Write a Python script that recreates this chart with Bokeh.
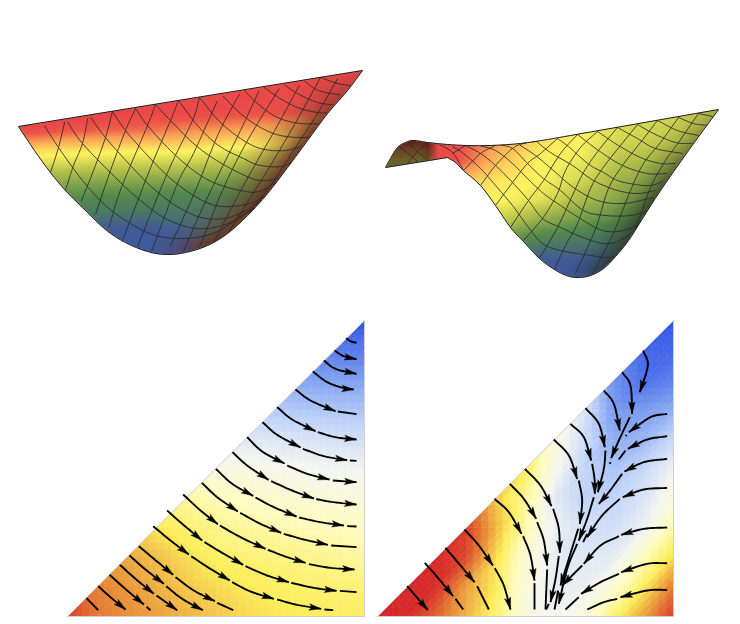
import numpy as np
from bokeh.plotting import figure
from bokeh.models import Range1d
from bokeh.embed import file_html
from bokeh.resources import INLINE

# ---------- upper left surface (page pixels) ----------
S1_EDGES = [
 [(18,126),(362,70)],
 [(362,70),(347,90),(327,113),(307,140),(287,167),(267,193),(247,215),(227,233),(207,245),
  (185,252),(166,254),(147,251),(125,242),(105,229),(82,207),(65,190),(50,172),(34,150),(18,126)],
]
S1_RIGHT_LEG = [(207,245),(227,233),(247,215),(267,193),(287,167),(307,140),(327,113),(347,90),(362,70)]
S1_DOWN = [
 [(42,122),(58,147),(82,180),(105,205),(130,223),(155,235),(185,238),(215,232),(240,216),(262,203)],
 [(65,118),(82,143),(118,180),(140,200),(165,218),(195,228),(225,224),(250,210),(270,196)],
 [(88,114),(105,137),(130,165),(155,190),(180,208),(205,218),(232,216),(258,202),(277,187)],
 [(112,111),(125,130),(147,155),(170,178),(193,195),(215,205),(240,205),(262,197),(283,178)],
 [(135,108),(147,125),(170,150),(193,170),(213,182),(240,190),(262,190),(290,170)],
 [(155,104),(170,120),(192,142),(213,158),(240,173),(260,180),(282,176),(297,160)],
 [(178,100),(197,125),(218,145),(243,158),(260,165),(285,165),(303,150)],
 [(199,97),(218,120),(240,138),(260,148),(285,150),(310,143)],
 [(220,93),(240,113),(260,127),(280,135),(305,137),(317,133)],
 [(242,88),(257,103),(277,117),(300,123),(325,123)],
 [(261,85),(278,97),(297,107),(317,112),(332,112)],
 [(282,83),(297,93),(317,102),(338,105)],
 [(302,79),(318,90),(343,95)],
 [(320,77),(337,83),(350,85)],
 [(340,73),(355,78)],
]
S1_UP = [
 [(42,122),(34,150)],
 [(65,118),(58,147),(50,172)],
 [(88,114),(82,143),(73,165),(65,190)],
 [(112,111),(105,137),(93,170),(79,205)],
 [(135,108),(125,130),(110,170),(93,220)],
 [(155,104),(147,125),(130,165),(118,195),(107,232)],
 [(178,100),(170,120),(149,170),(122,240)],
 [(199,97),(192,120),(168,170),(137,246)],
 [(220,93),(193,153),(177,183),(151,251)],
 [(242,88),(218,133),(195,190),(166,254)],
 [(261,85),(240,130),(220,170),(200,212),(183,251)],
 [(282,83),(257,123),(240,153),(222,190),(199,247)],
 [(302,79),(277,125),(257,160),(236,198),(214,241)],
 [(320,77),(298,117),(273,160),(250,197),(228,232)],
 [(340,73),(317,113),(293,150),(270,185),(242,221)],
]
S1_X = [20,60,100,140,180,220,260,300,340,380]
S1_Y = [70,90,110,130,150,170,190,210,230,250]
S1_VAL = [
 [1.1,1.0,1.0,1.0,1.0,1.0,1.0,1.0,1.0,1.0],
 [1.1,1.1,1.05,1.0,1.0,1.0,1.0,1.0,1.0,1.0],
 [1.1,1.1,1.05,1.0,1.0,.98,.96,.94,.94,.9],
 [.98,.93,.9,.88,.84,.8,.76,.74,.74,.74],
 [.68,.65,.64,.63,.63,.6,.58,.56,.56,.56],
 [.53,.52,.51,.51,.5,.48,.47,.46,.46,.46],
 [.41,.40,.38,.38,.36,.36,.37,.4,.4,.4],
 [.31,.29,.27,.26,.25,.26,.32,.4,.4,.4],
 [.14,.12,.08,.05,.12,.25,.36,.4,.4,.4],
 [.02,.02,.02,0,.05,.25,.3,.4,.4,.4],
]
S1_RIM_D = [0,8,20,40,60]
S1_RIM_W = [.95,.75,.45,.15,0]
S1_RIM_Y = [75,100,130,260]
S1_RIM_K = [.15,.55,1,1]

# ---------- upper right surface ----------
S2_EDGES = [
 [(385,167),(390,158),(397,147),(405,142),(413,140),(427,142),(447,144),(467,145),(490,145),(520,143),(547,139),(570,135)],
 [(570,135),(718,109)],
 [(718,109),(688,150),(660,190),(642,218),(628,240),(615,256),(603,268),(590,275),
  (577,277),(566,275),(554,269),(539,258),(523,241),(510,227),(495,205),(480,185),(463,170),(455,162),(447,157)],
 [(447,157),(385,167)],
]
S2_RIGHT_LEG = [(603,268),(615,256),(628,240),(642,218),(660,190),(688,150),(718,109)]
S2_DOWN = [
 [(437,143),(452,152),(463,170)],
 [(398,146),(408,153),(420,164)],
 [(408,142),(417,151),(430,162)],
 [(452,146),(463,153),(480,168),(495,185),(512,205),(528,227),(542,243),(560,250),(590,255),(610,257),(623,252)],
 [(465,145),(480,153),(495,165),(512,182),(528,200),(542,218),(560,227),(585,238),(610,243),(637,230)],
 [(478,145),(495,150),(512,163),(527,178),(543,193),(560,205),(578,217),(602,230),(623,230),(643,222)],
 [(497,144),(512,148),(527,163),(543,178),(560,190),(583,210),(605,215),(630,215),(648,210)],
 [(517,143),(535,155),(553,170),(573,187),(597,200),(623,203),(653,197)],
 [(536,141),(550,152),(572,165),(593,180),(617,190),(638,193),(655,190)],
 [(557,138),(568,146),(578,155),(590,165),(603,172),(617,180),(635,184),(650,185),(662,181)],
 [(577,134),(598,150),(622,165),(647,173),(667,173)],
 [(597,131),(618,145),(640,157),(660,163),(675,163)],
 [(617,127),(637,138),(655,148),(682,153)],
 [(637,124),(653,133),(675,142),(692,143)],
 [(657,120),(677,130),(698,135)],
 [(678,117),(693,123),(708,125)],
 [(698,113),(712,116)],
]
S2_UP = [
 [(407,163),(417,151),(427,143)],
 [(390,158),(405,142)],
 [(465,145),(452,153)],
 [(495,145),(480,153),(463,170)],
 [(535,141),(523,143),(512,148),(495,165),(480,185)],
 [(557,138),(540,153),(527,163),(512,182),(495,205)],
 [(577,134),(560,153),(543,180),(528,200),(510,227)],
 [(597,131),(580,147),(565,170),(557,193),(542,218),(523,240)],
 [(617,127),(598,150),(583,172),(571,197),(557,227),(539,258)],
 [(637,124),(620,145),(602,168),(590,188),(577,223),(565,245),(554,269)],
 [(657,120),(640,142),(622,165),(608,188),(597,223),(587,247),(573,277)],
 [(678,117),(660,142),(643,163),(630,190),(617,223),(608,243),(592,273)],
 [(698,113),(678,142),(665,160),(650,187),(637,223),(628,243),(608,265)],
]
S2_X = [380,420,440,460,500,540,580,620,660,700,740]
S2_Y = [100,120,140,160,180,200,220,240,260,280]
S2_VAL = [
 [.6,.6,.7,.6,.6,.6,.6,.6,.56,.54,.52],
 [.9,.9,1,.85,.7,.66,.62,.58,.56,.54,.52],
 [1,.95,1,.95,.78,.66,.62,.56,.54,.52,.52],
 [.65,.62,1,.92,.72,.62,.6,.52,.5,.48,.48],
 [.6,.6,.8,.72,.64,.62,.56,.48,.44,.42,.42],
 [.6,.6,.62,.62,.62,.58,.5,.44,.4,.36,.36],
 [.6,.6,.58,.58,.54,.46,.4,.36,.32,.3,.3],
 [.5,.5,.5,.5,.4,.3,.26,.24,.22,.22,.22],
 [.3,.3,.3,.3,.16,.08,.08,.1,.1,.1,.1],
 [.1,.1,.1,.1,.02,0,0,0,0,0,0],
]
S2_LOBE_X = [380,428,438,700]
S2_LOBE_K = [.42,.42,1,1]
S2_RIM_D = [0,8,20,35,50]
S2_RIM_W = [.75,.5,.25,.05,0]
S2_RIM_Y = [110,150,200,280]
S2_RIM_K = [.25,.6,1,1]

# colour scale of the surfaces: value, red, green, blue
SURF_V = [0,.1,.2,.35,.45,.52,.62,.72,.8,.92,1.0,1.1]
SURF_R = [62,66,72,85,140,185,252,253,250,238,235,205]
SURF_G = [88,92,112,138,170,195,243,195,160,85,72,70]
SURF_B = [160,150,115,75,75,75,95,90,85,72,72,65]

# ---------- lower triangles: node values per row, bottom row first ----------
LEFT_FIELD = [
 [.95,.8,.75,.7,.65,.6,.55,.52,.5,.49,.48],
 [.78,.72,.66,.6,.55,.51,.48,.46,.44,.43],
 [.68,.62,.55,.48,.44,.41,.38,.36,.33],
 [.52,.45,.38,.33,.3,.27,.25,.22],
 [.32,.26,.2,.17,.14,.12,.1],
 [.08,.06,.03,.01,-.01,-.03],
 [-.12,-.14,-.16,-.18,-.2],
 [-.35,-.36,-.37,-.38],
 [-.55,-.56,-.57],
 [-.78,-.78],
 [-1.0],
]
RIGHT_FIELD = [
 [1,1,.85,.65,.45,.1,-.02,.1,.45,.7,.95],
 [1,.98,.7,.5,.12,-.08,-.05,.15,.5,.8],
 [1,.92,.55,.15,-.08,-.12,-.08,.25,.55],
 [.95,.65,.3,-.05,-.18,-.2,-.05,.3],
 [.6,.35,-.1,-.28,-.28,-.15,.1],
 [.5,.05,-.28,-.38,-.25,-.03],
 [.1,-.2,-.5,-.45,-.25],
 [-.15,-.6,-.6,-.5],
 [-.65,-.85,-.75],
 [-.9,-.9],
 [-1.0],
]
FIELD_V = [-1,-.6,-.3,0,.25,.5,.75,1]
FIELD_R = [50,120,190,245,255,252,232,214]
FIELD_G = [85,155,210,247,252,238,140,40]
FIELD_B = [230,240,250,240,190,90,55,40]
LEFT_TRI = [(67,616),(364,320),(364,616)]
RIGHT_TRI = [(377,616),(673,320),(673,616)]

# ---------- streamlines, in 3x crop units ----------
L_ORIGIN = (60,315)
L_ARROWED = [
 [(822,105),(850,122),(888,131)],[(790,135),(825,160),(888,175)],[(757,168),(800,200),(850,218),(880,222)],
 [(705,222),(750,255),(825,287)],[(650,275),(695,312),(765,347)],[(772,350),(825,365),(888,372)],
 [(606,320),(650,358),(720,396)],[(727,400),(790,422),(860,434)],
 [(560,365),(605,408),(672,444)],[(680,450),(740,475),(807,492)],[(817,495),(888,500)],
 [(516,410),(560,450),(624,493)],[(632,497),(695,525),(760,549)],[(767,551),(820,560),(888,567)],
 [(466,460),(515,505),(578,541)],[(585,546),(640,575),(708,603)],[(716,606),(780,620),(850,630)],
 [(424,502),(470,545),(532,588)],[(539,592),(600,625),(662,652)],[(670,655),(730,672),(802,688)],
 [(368,537),(420,585),(472,626)],[(478,630),(540,665),(615,700)],[(622,703),(680,725),(735,742)],[(745,746),(810,757),(882,762)],
 [(320,585),(365,625),(425,675)],[(432,680),(485,712),(548,748)],[(555,752),(620,780),(685,800)],[(692,802),(760,817),(828,826)],
 [(278,632),(330,675),(385,717)],[(392,722),(445,757),(508,795)],[(515,800),(570,828),(640,850)],[(650,852),(710,868),(782,880)],
 [(235,692),(280,730),(338,778)],[(345,785),(400,825),(463,857)],
 [(207,720),(255,762),(310,805)],[(317,812),(365,850),(427,884)],
 [(178,748),(225,790),(280,835)],[(288,840),(350,884)],
 [(147,778),(200,825),(250,867)],[(113,812),(150,845),(195,882)],
]
L_PLAIN = [
 [(857,68),(872,78),(888,82)],[(832,288),(888,296)],[(868,435),(888,436)],[(860,632),(888,633)],[(812,690),(888,695)],
 [(838,826),(888,830)],[(792,882),(818,884)],[(470,862),(518,884)],[(258,874),(270,884)],[(78,848),(113,884)],
]
R_ORIGIN = (370,315)
R_ARROWED = [
 [(110,812),(172,884)],[(163,742),(205,790),(248,842)],[(225,697),(270,750),(312,800)],
 [(282,642),(325,690),(367,750)],[(373,758),(400,810),(420,882)],
 [(372,550),(415,590),(453,655)],[(458,662),(480,720),(492,795)],
 [(418,505),(460,550),(497,610)],[(500,620),(520,675),(530,750)],
 [(463,460),(510,510),(543,572)],[(548,580),(565,640),(568,712)],[(565,722),(555,790),(540,860)],
 [(550,372),(595,420),(620,490)],[(625,495),(635,555),(628,625)],[(623,640),(595,730),(570,810)],
 [(600,325),(640,365),(662,435)],[(665,445),(672,490),(673,535)],[(670,545),(650,610),(625,675)],
 [(645,278),(685,325),(703,395)],[(705,405),(700,460),(682,530)],[(620,685),(590,760),(565,865)],
 [(700,225),(730,265),(748,345)],[(755,170),(780,210),(785,295)],[(778,305),(745,375),(722,428)],
 [(818,105),(832,150),(808,230)],
 [(890,295),(840,305),(775,350)],[(890,362),(830,372),(772,400)],[(890,430),(820,440),(762,468)],
 [(755,475),(715,530),(685,565)],[(890,517),(820,522),(757,545)],[(748,550),(695,600),(650,665)],
 [(890,636),(820,640),(752,658)],[(745,662),(690,690),(640,745)],[(635,750),(575,810)],
 [(890,743),(830,745),(752,770)],[(745,775),(690,800),(632,835)],[(890,823),(830,825),(750,845)],
]
R_PLAIN = [
 [(255,850),(278,882)],[(320,812),(355,882)],[(492,803),(492,882)],[(530,762),(525,882)],[(535,865),(527,882)],
 [(563,825),(552,882)],[(768,358),(766,362)],[(765,405),(745,432)],[(625,845),(585,882)],[(740,850),(700,860),(650,882)],
 [(720,440),(718,445)],[(650,655),(638,680)],
]


def smooth(pts, n=8):
    pts = np.array(pts, float)
    if len(pts) < 3:
        return pts[:, 0].tolist(), pts[:, 1].tolist()
    q = np.vstack([2*pts[0]-pts[1], pts, 2*pts[-1]-pts[-2]])
    out = []
    for i in range(1, len(q)-2):
        p0, p1, p2, p3 = q[i-1], q[i], q[i+1], q[i+2]
        for t in np.linspace(0, 1, n, endpoint=False):
            out.append(.5*((2*p1)+(-p0+p2)*t+(2*p0-5*p1+4*p2-p3)*t*t+(-p0+3*p1-3*p2+p3)*t**3))
    out.append(pts[-1])
    out = np.array(out)
    return out[:, 0].tolist(), out[:, 1].tolist()


def inside(poly, X, Y):
    poly = np.array(poly, float)
    res = np.zeros(X.shape, bool)
    x1, y1 = poly[-1]
    for x2, y2 in poly:
        c = (y1 > Y) != (y2 > Y)
        with np.errstate(divide="ignore", invalid="ignore"):
            res ^= c & (X < (x2-x1)*(Y-y1)/(y2-y1+1e-12)+x1)
        x1, y1 = x2, y2
    return res


def lattice(xs, ys, table, X, Y):
    t = np.array(table, float)
    fx = np.interp(X, xs, np.arange(len(xs)))
    fy = np.interp(Y, ys, np.arange(len(ys)))
    ix = np.clip(fx.astype(int), 0, len(xs)-2)
    iy = np.clip(fy.astype(int), 0, len(ys)-2)
    ax, ay = fx-ix, fy-iy
    return (t[iy, ix]*(1-ax)*(1-ay)+t[iy, ix+1]*ax*(1-ay)+t[iy+1, ix]*(1-ax)*ay+t[iy+1, ix+1]*ax*ay)


def outline_of(edges):
    xx, yy = [], []
    for e in edges:
        a, b = smooth(e, 4)
        xx += a
        yy += b
    return xx, yy


def surface_image(edges, xs, ys, vals, leg, rim_d, rim_w, rim_y, rim_k, rim_rgb, lobe=None):
    xx, yy = outline_of(edges)
    x0, x1 = int(min(xx))-1, int(max(xx))+2
    y0, y1 = int(min(yy))-1, int(max(yy))+2
    ss = 3
    gx = x0+(np.arange((x1-x0)*ss)+.5)/ss
    gy = y0+(np.arange((y1-y0)*ss)+.5)/ss
    X, Y = np.meshgrid(gx, gy)
    mask = inside(list(zip(xx, yy)), X, Y)
    v = lattice(xs, ys, vals, X, Y)
    rgb = np.stack([np.interp(v, SURF_V, c) for c in (SURF_R, SURF_G, SURF_B)], -1)
    if lobe is not None:
        rgb *= np.interp(X, lobe[0], lobe[1])[..., None]
    leg = np.array(leg, float)
    d = np.interp(Y, leg[::-1, 1], leg[::-1, 0])-X
    w = np.interp(d, rim_d, rim_w)*np.interp(Y, rim_y, rim_k)
    rgb = rgb*(1-w[..., None])+np.array(rim_rgb, float)*w[..., None]
    a = mask.astype(float)
    h, wd = a.shape
    a2 = a.reshape(h//ss, ss, wd//ss, ss).mean((1, 3))
    col = (rgb*a[..., None]).reshape(h//ss, ss, wd//ss, ss, 3).mean((1, 3))
    col = col/np.maximum(a2[..., None], 1e-6)
    img = np.zeros((h//ss, wd//ss), dtype=np.uint32)
    view = img.view(np.uint8).reshape(h//ss, wd//ss, 4)
    view[..., :3] = np.clip(col, 0, 255).astype(np.uint8)
    view[..., 3] = (a2*255).astype(np.uint8)
    return img, x0, y0, x1-x0, y1-y0


def hexcol(v):
    return "#%02x%02x%02x" % tuple(int(np.interp(v, FIELD_V, c)) for c in (FIELD_R, FIELD_G, FIELD_B))


def draw_field(p, tri, field, k=4):
    (xl, yb), (xr, yt), _ = tri
    m = len(field)-1
    node = lambda i, r: field[r][i-r]
    pos = lambda a, b: (xl+(xr-xl)*a/m, yb+(yt-yb)*b/m)
    xs, ys, cs = [], [], []
    def add(P, V):
        for s in range(k):
            for t in range(k-s):
                for a, b, f in ((s, t, 0), (s, t, 1)):
                    if f and a+b+2 > k:
                        continue
                    if not f:
                        L = [(a, b), (a+1, b), (a, b+1)]
                    else:
                        L = [(a+1, b), (a+1, b+1), (a, b+1)]
                    px, py, val = [], [], []
                    for (u, w) in L:
                        c0, c1, c2 = 1-(u+w)/k, u/k, w/k
                        px.append(c0*P[0][0]+c1*P[1][0]+c2*P[2][0])
                        py.append(c0*P[0][1]+c1*P[1][1]+c2*P[2][1])
                        val.append(c0*V[0]+c1*V[1]+c2*V[2])
                    xs.append(px); ys.append(py); cs.append(hexcol(sum(val)/3))
    for r in range(m):
        for i in range(r, m):
            add([pos(i, r), pos(i+1, r), pos(i+1, r+1)], [node(i, r), node(i+1, r), node(i+1, r+1)])
            if i > r:
                add([pos(i, r), pos(i+1, r+1), pos(i, r+1)], [node(i, r), node(i+1, r+1), node(i, r+1)])
    p.patches(xs, ys, fill_color=cs, line_color=cs, line_width=.6)
    a, b, c = tri
    p.line([a[0], b[0], c[0], a[0]], [a[1], b[1], c[1], a[1]], line_color="#cfcfcf", line_width=1)


def draw_streams(p, origin, arrowed, plain):
    def conv(seg):
        return [(origin[0]+x/3, origin[1]+y/3) for x, y in seg]
    lx, ly, hx, hy = [], [], [], []
    for seg in arrowed+plain:
        a, b = smooth(conv(seg))
        lx.append(a); ly.append(b)
    for seg in arrowed:
        a, b = smooth(conv(seg))
        tip = np.array([a[-1], b[-1]])
        j = max(0, len(a)-5)
        d = tip-np.array([a[j], b[j]])
        d = d/np.hypot(*d)
        n = np.array([-d[1], d[0]])
        w1 = tip-12*d+3.2*n
        w2 = tip-12*d-3.2*n
        nt = tip-9.5*d
        hx.append([tip[0], w1[0], nt[0], w2[0]]); hy.append([tip[1], w1[1], nt[1], w2[1]])
    p.multi_line(lx, ly, line_color="#000000", line_width=1.9)
    p.patches(hx, hy, fill_color="#000000", line_color="#000000", line_width=.4)


p = figure(width=740, height=624, x_range=Range1d(0, 740), y_range=Range1d(624, 0),
           toolbar_location=None, output_backend="svg", min_border=0, outline_line_color=None)
p.axis.visible = False
p.grid.visible = False

for edges, xs, ys, vals, leg, rd, rw, ry, rk, col, lobe, downs, ups in (
    (S1_EDGES, S1_X, S1_Y, S1_VAL, S1_RIGHT_LEG, S1_RIM_D, S1_RIM_W, S1_RIM_Y, S1_RIM_K, (105, 48, 35), None, S1_DOWN, S1_UP),
    (S2_EDGES, S2_X, S2_Y, S2_VAL, S2_RIGHT_LEG, S2_RIM_D, S2_RIM_W, S2_RIM_Y, S2_RIM_K, (40, 48, 32),
     (S2_LOBE_X, S2_LOBE_K), S2_DOWN, S2_UP),
):
    img, x0, y0, dw, dh = surface_image(edges, xs, ys, vals, leg, rd, rw, ry, rk, col, lobe)
    p.image_rgba(image=[img], x=x0, y=y0, dw=dw, dh=dh)
    ox, oy = outline_of(edges)
    poly = list(zip(ox, oy))
    mx, my = [], []
    for ln in downs+ups:
        a, b = smooth(ln)
        a, b = np.array(a), np.array(b)
        keep = inside(poly, a, b)
        # a mesh line stops where it leaves the surface
        mx.append(np.where(keep, a, np.nan).tolist())
        my.append(np.where(keep, b, np.nan).tolist())
    p.multi_line(mx, my, line_color="#2a2a2a", line_width=1.0, line_alpha=.85)
    p.line(ox, oy, line_color="#1a1a1a", line_width=1.0)

draw_field(p, LEFT_TRI, LEFT_FIELD)
draw_streams(p, L_ORIGIN, L_ARROWED, L_PLAIN)
draw_field(p, RIGHT_TRI, RIGHT_FIELD)
draw_streams(p, R_ORIGIN, R_ARROWED, R_PLAIN)

open("out.html", "w").write(file_html(p, INLINE))
